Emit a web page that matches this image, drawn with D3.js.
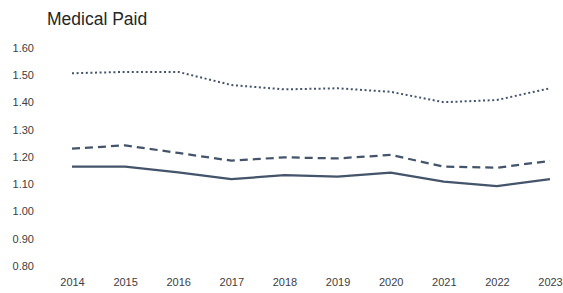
<!DOCTYPE html>
<html>
<head>
<meta charset="utf-8">
<script src="https://cdn.jsdelivr.net/npm/d3@7"></script>
<style>
  body { margin: 0; background: #fff; }
  svg { display: block; }
  .tick text { font-family: "Liberation Sans", Arial, sans-serif; font-size: 11px; fill: #404040; }
</style>
</head>
<body>
<script>
// data
var years = ["2014", "2015", "2016", "2017", "2018", "2019", "2020", "2021", "2022", "2023"];
var solidVals  = [1.164, 1.164, 1.143, 1.118, 1.133, 1.127, 1.142, 1.109, 1.093, 1.118];
var dashedVals = [1.230, 1.242, 1.214, 1.186, 1.198, 1.194, 1.207, 1.164, 1.160, 1.185];
var dottedVals = [1.506, 1.511, 1.511, 1.463, 1.447, 1.451, 1.438, 1.400, 1.408, 1.451];
var yTicks = [0.8, 0.9, 1.0, 1.1, 1.2, 1.3, 1.4, 1.5, 1.6];

var W = 563, H = 293;
var color = "#44546a";

var svg = d3.select("body").append("svg")
    .attr("width", W)
    .attr("height", H);

svg.append("text")
    .attr("x", 47)
    .attr("y", 25)
    .style("font-family", "'Liberation Sans', Arial, sans-serif")
    .style("font-size", "17.5px")
    .style("fill", "#262626")
    .text("Medical Paid");

var x = d3.scalePoint().domain(years).range([72, 550]);
var y = d3.scaleLinear().domain([0.8, 1.6]).range([266, 47.6]);

// y axis labels only (no line, no ticks)
var yAxis = svg.append("g")
    .attr("transform", "translate(34,0)")
    .call(d3.axisLeft(y).tickValues(yTicks).tickFormat(d3.format(".2f")).tickSize(0).tickPadding(0));
yAxis.select(".domain").remove();

var xAxis = svg.append("g")
    .attr("transform", "translate(0,278)")
    .call(d3.axisBottom(x).tickSize(0).tickPadding(0));
xAxis.select(".domain").remove();

var line = d3.line()
    .x(function(d, i) { return x(years[i]); })
    .y(function(d) { return y(d); });

var series = [
  {vals: solidVals,  dash: null,      w: 2.25, cap: "butt"},
  {vals: dashedVals, dash: "8,5",     w: 2.25, cap: "butt"},
  {vals: dottedVals, dash: "2,2.6",   w: 2,    cap: "butt"}
];

svg.selectAll(".series").data(series)
  .enter().append("path")
    .attr("class", "series")
    .attr("fill", "none")
    .attr("stroke", color)
    .attr("stroke-width", function(d) { return d.w; })
    .attr("stroke-dasharray", function(d) { return d.dash; })
    .attr("stroke-linecap", function(d) { return d.cap; })
    .attr("stroke-linejoin", "round")
    .attr("d", function(d) { return line(d.vals); });
</script>
</body>
</html>
